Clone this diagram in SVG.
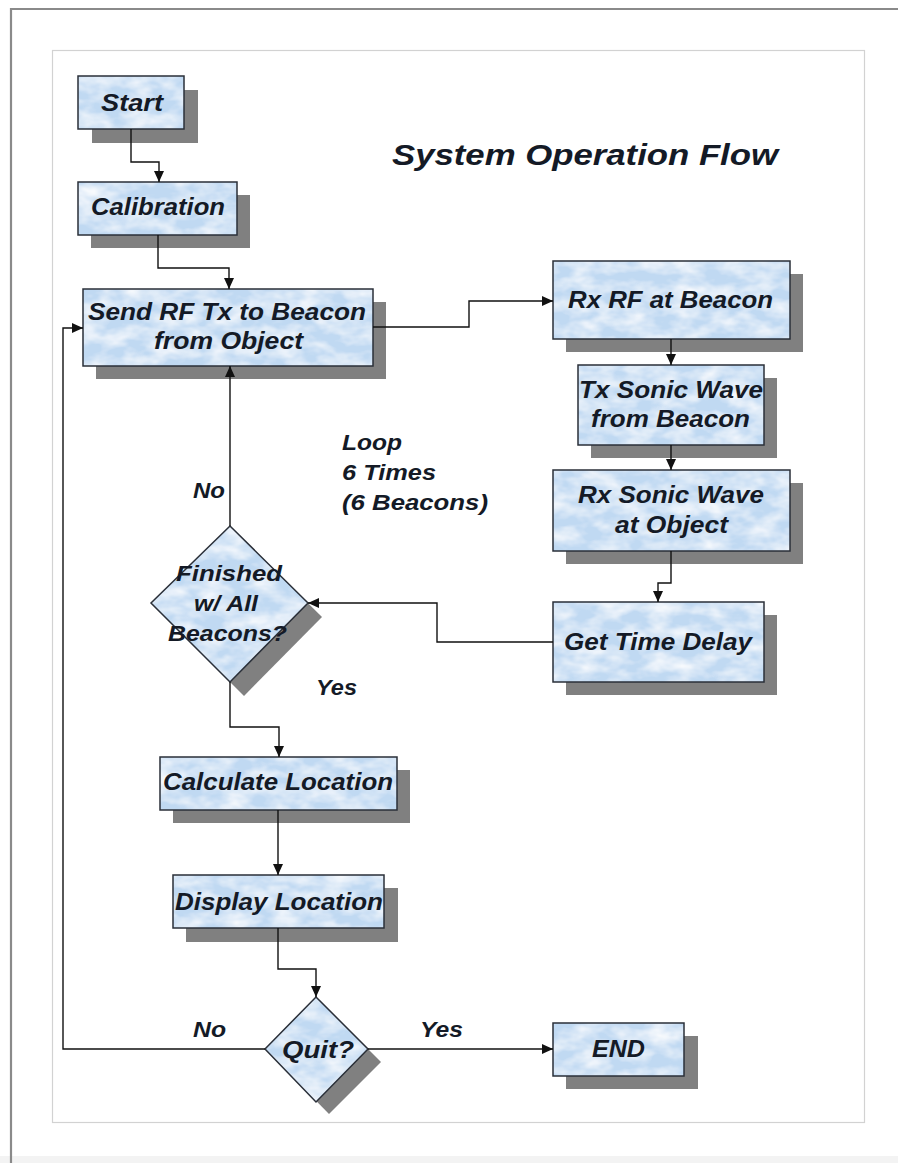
<svg xmlns="http://www.w3.org/2000/svg" width="898" height="1163" viewBox="0 0 898 1163">
  <style>
    .box { fill: #c0d9f2; }
    .edge { fill: none; stroke: #2a2f38; stroke-width: 1.5; }
    .shadow { fill: #808080; }
    .label { font-family: "Liberation Sans", Arial, sans-serif; font-weight: bold; font-style: italic; fill: #141a26; }
    .big { font-size: 24px; text-anchor: middle; }
    .mid { font-size: 22px; text-anchor: middle; }
    .note { font-size: 22px; }
    .title { font-size: 30px; }
    .wire { fill: none; stroke: #111; stroke-width: 1.4; marker-end: url(#arrow); }
  </style>
  <defs>
    <marker id="arrow" markerUnits="userSpaceOnUse" markerWidth="12" markerHeight="10" refX="11" refY="5" orient="auto">
      <path d="M0,0 L11,5 L0,10 z" fill="#111"/>
    </marker>
    <!-- soft white cloud mottling over the pale blue fill -->
    <filter id="clouds" x="0" y="0" width="1" height="1">
      <feTurbulence type="fractalNoise" baseFrequency="0.04 0.07" numOctaves="3" seed="7" result="noise"/>
      <feColorMatrix in="noise" type="matrix" values="0 0 0 0 1  0 0 0 0 1  0 0 0 0 1  1.5 0 0 0 -0.5" result="white"/>
      <feComposite in="white" in2="SourceGraphic" operator="atop"/>
    </filter>
  </defs>

  <!-- page background and frames -->
  <rect x="0" y="0" width="898" height="1163" fill="#ffffff"/>
  <rect x="0" y="1156" width="898" height="7" fill="#f3f3f3"/>
  <path d="M11,1163 V9 H898" fill="none" stroke="#8a8a8a" stroke-width="2.2"/>
  <rect x="52.5" y="50.5" width="812" height="1072" fill="none" stroke="#d2d2d2" stroke-width="1.2"/>

  <!-- title -->
  <text class="label title" x="392" y="165" textLength="386" lengthAdjust="spacingAndGlyphs">System Operation Flow</text>

  <!-- connector labels -->
  <g id="labels">
    <text class="label note" x="193" y="498" textLength="32" lengthAdjust="spacingAndGlyphs">No</text>
    <text class="label note" x="316" y="695" textLength="41" lengthAdjust="spacingAndGlyphs">Yes</text>
    <text class="label note" x="342" y="450" textLength="60" lengthAdjust="spacingAndGlyphs">Loop</text>
    <text class="label note" x="342" y="480" textLength="94" lengthAdjust="spacingAndGlyphs">6 Times</text>
    <text class="label note" x="342" y="510" textLength="146" lengthAdjust="spacingAndGlyphs">(6 Beacons)</text>
    <text class="label note" x="193" y="1037" textLength="33" lengthAdjust="spacingAndGlyphs">No</text>
    <text class="label note" x="420" y="1037" textLength="43" lengthAdjust="spacingAndGlyphs">Yes</text>
  </g>

  <g id="start">
    <rect class="shadow" x="92" y="90" width="106" height="53"/>
    <rect class="box" filter="url(#clouds)" x="78" y="76" width="106" height="53"/>
    <rect class="edge" x="78" y="76" width="106" height="53"/>
    <text class="label big" x="132" y="111" textLength="62" lengthAdjust="spacingAndGlyphs">Start</text>
  </g>

  <g id="calibration">
    <rect class="shadow" x="91" y="195" width="159" height="53"/>
    <rect class="box" filter="url(#clouds)" x="78" y="182" width="159" height="53"/>
    <rect class="edge" x="78" y="182" width="159" height="53"/>
    <text class="label big" x="158" y="215" textLength="134" lengthAdjust="spacingAndGlyphs">Calibration</text>
  </g>

  <g id="send-rf">
    <rect class="shadow" x="96" y="302" width="290" height="77"/>
    <rect class="box" filter="url(#clouds)" x="83" y="289" width="290" height="77"/>
    <rect class="edge" x="83" y="289" width="290" height="77"/>
    <text class="label big" x="227" y="320" textLength="278" lengthAdjust="spacingAndGlyphs">Send RF Tx to Beacon</text>
    <text class="label big" x="228.5" y="349" textLength="149" lengthAdjust="spacingAndGlyphs">from Object</text>
  </g>

  <g id="rx-rf">
    <rect class="shadow" x="566" y="274" width="237" height="78"/>
    <rect class="box" filter="url(#clouds)" x="553" y="261" width="237" height="78"/>
    <rect class="edge" x="553" y="261" width="237" height="78"/>
    <text class="label big" x="670.5" y="308" textLength="205" lengthAdjust="spacingAndGlyphs">Rx RF at Beacon</text>
  </g>

  <g id="tx-sonic">
    <rect class="shadow" x="591" y="378" width="186" height="80"/>
    <rect class="box" filter="url(#clouds)" x="578" y="365" width="186" height="80"/>
    <rect class="edge" x="578" y="365" width="186" height="80"/>
    <text class="label big" x="671" y="398" textLength="184" lengthAdjust="spacingAndGlyphs">Tx Sonic Wave</text>
    <text class="label big" x="670.5" y="427" textLength="159" lengthAdjust="spacingAndGlyphs">from Beacon</text>
  </g>

  <g id="rx-sonic">
    <rect class="shadow" x="566" y="483" width="237" height="81"/>
    <rect class="box" filter="url(#clouds)" x="553" y="470" width="237" height="81"/>
    <rect class="edge" x="553" y="470" width="237" height="81"/>
    <text class="label big" x="671" y="503" textLength="186" lengthAdjust="spacingAndGlyphs">Rx Sonic Wave</text>
    <text class="label big" x="671.5" y="533" textLength="113" lengthAdjust="spacingAndGlyphs">at Object</text>
  </g>

  <g id="time-delay">
    <rect class="shadow" x="566" y="615" width="211" height="80"/>
    <rect class="box" filter="url(#clouds)" x="553" y="602" width="211" height="80"/>
    <rect class="edge" x="553" y="602" width="211" height="80"/>
    <text class="label big" x="658" y="650" textLength="188" lengthAdjust="spacingAndGlyphs">Get Time Delay</text>
  </g>

  <g id="finished">
    <polygon class="shadow" points="244,540 322,617 244,696 165,617"/>
    <polygon class="box" filter="url(#clouds)" points="230,526 308,603 230,682 151,603"/>
    <polygon class="edge" points="230,526 308,603 230,682 151,603"/>
    <text class="label mid" x="229" y="581" textLength="106" lengthAdjust="spacingAndGlyphs">Finished</text>
    <text class="label mid" x="226" y="611" textLength="64" lengthAdjust="spacingAndGlyphs">w/ All</text>
    <text class="label mid" x="227.5" y="641" textLength="119" lengthAdjust="spacingAndGlyphs">Beacons?</text>
  </g>

  <g id="calculate">
    <rect class="shadow" x="173" y="770" width="237" height="53"/>
    <rect class="box" filter="url(#clouds)" x="160" y="757" width="237" height="53"/>
    <rect class="edge" x="160" y="757" width="237" height="53"/>
    <text class="label big" x="278" y="790" textLength="230" lengthAdjust="spacingAndGlyphs">Calculate Location</text>
  </g>

  <g id="display">
    <rect class="shadow" x="186" y="888" width="212" height="54"/>
    <rect class="box" filter="url(#clouds)" x="173" y="875" width="211" height="53"/>
    <rect class="edge" x="173" y="875" width="211" height="53"/>
    <text class="label big" x="279" y="910" textLength="208" lengthAdjust="spacingAndGlyphs">Display Location</text>
  </g>

  <g id="quit">
    <polygon class="shadow" points="329,1010 381,1062 329,1114 278,1062"/>
    <polygon class="box" filter="url(#clouds)" points="316,997 368,1049 316,1102 265,1049"/>
    <polygon class="edge" points="316,997 368,1049 316,1102 265,1049"/>
    <text class="label big" x="318" y="1058" textLength="72" lengthAdjust="spacingAndGlyphs">Quit?</text>
  </g>

  <g id="end">
    <rect class="shadow" x="566" y="1036" width="132" height="53"/>
    <rect class="box" filter="url(#clouds)" x="553" y="1023" width="131" height="53"/>
    <rect class="edge" x="553" y="1023" width="131" height="53"/>
    <text class="label big" x="618.5" y="1057" textLength="53" lengthAdjust="spacingAndGlyphs">END</text>
  </g>

  <!-- connectors, drawn over the drop shadows -->
  <g id="connectors">
    <path class="wire" d="M131,129 V162 H159 V182"/>
    <path class="wire" d="M158,235 V268 H229 V289"/>
    <path class="wire" d="M373,327 H469 V301 H553"/>
    <path class="wire" d="M671,339 V365"/>
    <path class="wire" d="M671,445 V470"/>
    <path class="wire" d="M671,551 V583 H658 V602"/>
    <path class="wire" d="M553,642 H437 V603 H308"/>
    <path class="wire" d="M230,526 V366"/>
    <path class="wire" d="M230,682 V727 H279 V757"/>
    <path class="wire" d="M278,810 V875"/>
    <path class="wire" d="M278,928 V969 H316 V997"/>
    <path class="wire" d="M368,1049 H553"/>
    <path class="wire" d="M265,1049 H63 V328 H83"/>
  </g>
</svg>
